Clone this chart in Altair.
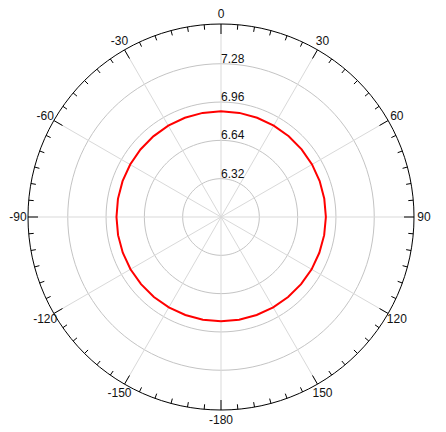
import altair as alt
import pandas as pd

# ---- data ----
R_CENTER = 6.0
R_OUTER = 7.612
RING_VALUES = [6.32, 6.64, 6.96, 7.28]
RING_LABELS = ["6.32", "6.64", "6.96", "7.28"]
SPOKE_ANGLES = [0, 30, 60, 90, 120, 150, 180, 210, 240, 270, 300, 330]
ANGLE_LABELS = ["0", "30", "60", "90", "120", "150", "-180", "-150", "-120", "-90", "-60", "-30"]
TRACE_ANGLES = [-180, -170, -160, -150, -140, -130, -120, -110, -100, -90,
                -80, -70, -60, -50, -40, -30, -20, -10, 0, 10, 20, 30, 40,
                50, 60, 70, 80, 90, 100, 110, 120, 130, 140, 150, 160, 170, 180]
TRACE_VALUES = [6.871, 6.871, 6.871, 6.872, 6.872, 6.872, 6.873, 6.873, 6.873, 6.873,
                6.874, 6.875, 6.876, 6.878, 6.879, 6.881, 6.882, 6.883, 6.883, 6.883,
                6.882, 6.881, 6.880, 6.879, 6.878, 6.877, 6.876, 6.876, 6.875, 6.874,
                6.874, 6.873, 6.872, 6.872, 6.871, 6.871, 6.871]

PX_PER_UNIT = 193 / (R_OUTER - R_CENTER)
D = R_OUTER - R_CENTER
CIRCLE_STEPS = list(range(0, 361, 3))

ring_df = pd.DataFrame([{"ring": v, "a": a, "r": v} for v in RING_VALUES for a in CIRCLE_STEPS])
outer_df = pd.DataFrame([{"a": a, "r": R_OUTER} for a in CIRCLE_STEPS])
spoke_df = pd.DataFrame({"a": SPOKE_ANGLES})
tick_df = pd.DataFrame([{"a": a, "len": (10 if a % 30 == 0 else 5) / PX_PER_UNIT} for a in range(0, 360, 5)])
alab_df = pd.DataFrame({"a": SPOKE_ANGLES, "label": ANGLE_LABELS})
rlab_df = pd.DataFrame({"r": RING_VALUES, "label": RING_LABELS})
trace_df = pd.DataFrame({"a": TRACE_ANGLES, "r": TRACE_VALUES})

xs = alt.Scale(domain=[-D, D], nice=False, zero=False)
ys = alt.Scale(domain=[-D, D], nice=False, zero=False)

def polar(chart, rfield="datum.r"):
    return chart.transform_calculate(
        px=f"({rfield} - {R_CENTER}) * sin(datum.a * PI / 180)",
        py=f"({rfield} - {R_CENTER}) * cos(datum.a * PI / 180)",
    )

X = alt.X("px:Q", scale=xs, axis=None)
Y = alt.Y("py:Q", scale=ys, axis=None)

rings = polar(alt.Chart(ring_df)).mark_line(color="#c4c4c4", strokeWidth=1).encode(
    x=X, y=Y, detail="ring:N", order="a:Q")

spokes = alt.Chart(spoke_df).transform_calculate(
    px=f"{D} * sin(datum.a * PI / 180)",
    py=f"{D} * cos(datum.a * PI / 180)",
    px2="0",
    py2="0",
).mark_rule(color="#d9d9d9", strokeWidth=1).encode(
    x=X, y=Y, x2="px2:Q", y2="py2:Q")

trace = polar(alt.Chart(trace_df)).mark_line(color="#ff0000", strokeWidth=2).encode(
    x=X, y=Y, order="a:Q")

outer = polar(alt.Chart(outer_df)).mark_line(color="#000000", strokeWidth=1).encode(
    x=X, y=Y, order="a:Q")

ticks = alt.Chart(tick_df).transform_calculate(
    px=f"{D} * sin(datum.a * PI / 180)",
    py=f"{D} * cos(datum.a * PI / 180)",
    px2=f"({D} - datum.len) * sin(datum.a * PI / 180)",
    py2=f"({D} - datum.len) * cos(datum.a * PI / 180)",
).mark_rule(color="#000000", strokeWidth=1).encode(
    x=X, y=Y, x2="px2:Q", y2="py2:Q")

LAB_R = D + 10 / PX_PER_UNIT
alabels = alt.Chart(alab_df).transform_calculate(
    px=f"{LAB_R} * sin(datum.a * PI / 180)",
    py=f"{LAB_R} * cos(datum.a * PI / 180)",
).mark_text(font="Liberation Sans", fontSize=12, color="#111111",
            align="center", baseline="middle").encode(x=X, y=Y, text="label:N")

rlabels = alt.Chart(rlab_df).transform_calculate(
    px="0",
    py=f"datum.r - {R_CENTER}",
).mark_text(font="Liberation Sans", fontSize=12, color="#111111",
            align="left", baseline="alphabetic", dx=0, dy=-1).encode(x=X, y=Y, text="label:N")

chart = alt.layer(rings, spokes, trace, outer, ticks, alabels, rlabels).properties(
    width=386, height=386,
    autosize="none",
    padding={"left": 20, "top": 16, "right": 20, "bottom": 20},
).configure_view(stroke=None)

chart.save("out.html", embed_options={"renderer": "svg", "actions": False})
